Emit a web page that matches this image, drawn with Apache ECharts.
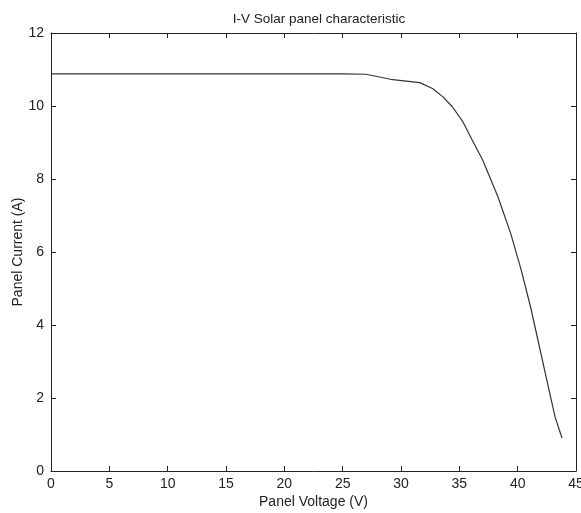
<!DOCTYPE html>
<html>
<head>
<meta charset="utf-8">
<script src="https://cdn.jsdelivr.net/npm/echarts@6/dist/echarts.min.js"></script>
<style>
  html, body { margin: 0; padding: 0; background: #fff; }
  #chart { width: 581px; height: 513px; }
</style>
</head>
<body>
<div id="chart"></div>
<script>
// I-V curve of a solar panel: voltage (V) and current (A) samples
const voltage = [0, 5, 10, 15, 20, 25, 27, 29.3, 31.6, 32.7, 33.6, 34.4, 35.3, 36.1, 37.0, 38.3, 39.4, 40.3, 41.1, 41.8, 42.5, 43.2, 43.8];
const current = [10.88, 10.88, 10.88, 10.88, 10.88, 10.88, 10.87, 10.72, 10.64, 10.48, 10.25, 9.98, 9.57, 9.07, 8.52, 7.52, 6.51, 5.51, 4.50, 3.50, 2.49, 1.49, 0.90];

const xTicks = [0, 5, 10, 15, 20, 25, 30, 35, 40, 45];
const yTicks = [0, 2, 4, 6, 8, 10, 12];

const titleText = 'I-V Solar panel characteristic';
const xName = 'Panel Voltage (V)';
const yName = 'Panel Current (A)';

const points = voltage.map((v, i) => [v, current[i]]);

const font = 'Liberation Sans, Arial, sans-serif';
const ink = '#222';

const tickInside = { show: true, inside: true, length: 5, lineStyle: { color: ink, width: 1 } };
const axisLine = { show: true, onZero: false, lineStyle: { color: ink, width: 1 } };

const chart = echarts.init(document.getElementById('chart'), null, { renderer: 'canvas' });
chart.setOption({
  animation: false,
  backgroundColor: '#fff',
  title: {
    text: titleText,
    left: 314, top: 7, textAlign: 'center',
    textStyle: { fontFamily: font, fontSize: 13.5, fontWeight: 'normal', color: ink }
  },
  grid: { left: 51, right: 5, top: 33, bottom: 42, containLabel: false, outerBoundsMode: 'none' },
  xAxis: [
    {
      type: 'value', min: xTicks[0], max: xTicks[xTicks.length - 1], interval: 5,
      position: 'bottom',
      name: xName, nameLocation: 'middle', nameGap: 24, nameMoveOverlap: false,
      nameTextStyle: { fontFamily: font, fontSize: 14, color: ink },
      axisLine: axisLine, axisTick: tickInside,
      axisLabel: { fontFamily: font, fontSize: 14, color: ink, margin: 6, showMaxLabel: true },
      splitLine: { show: false }
    },
    {
      type: 'value', min: xTicks[0], max: xTicks[xTicks.length - 1], interval: 5,
      position: 'top',
      axisLine: axisLine, axisTick: tickInside,
      axisLabel: { show: false }, splitLine: { show: false }
    }
  ],
  yAxis: [
    {
      type: 'value', min: yTicks[0], max: yTicks[yTicks.length - 1], interval: 2,
      position: 'left',
      name: yName, nameLocation: 'middle', nameGap: 26, nameRotate: 90, nameMoveOverlap: false,
      nameTextStyle: { fontFamily: font, fontSize: 14, color: ink },
      axisLine: axisLine, axisTick: tickInside,
      axisLabel: { fontFamily: font, fontSize: 14, color: ink, margin: 7 },
      splitLine: { show: false }
    },
    {
      type: 'value', min: yTicks[0], max: yTicks[yTicks.length - 1], interval: 2,
      position: 'right',
      axisLine: axisLine, axisTick: tickInside,
      axisLabel: { show: false }, splitLine: { show: false }
    }
  ],
  series: [{
    type: 'line',
    xAxisIndex: 0, yAxisIndex: 0,
    data: points,
    showSymbol: false,
    smooth: false,
    lineStyle: { color: '#333', width: 1.2 }
  }]
});
</script>
</body>
</html>
